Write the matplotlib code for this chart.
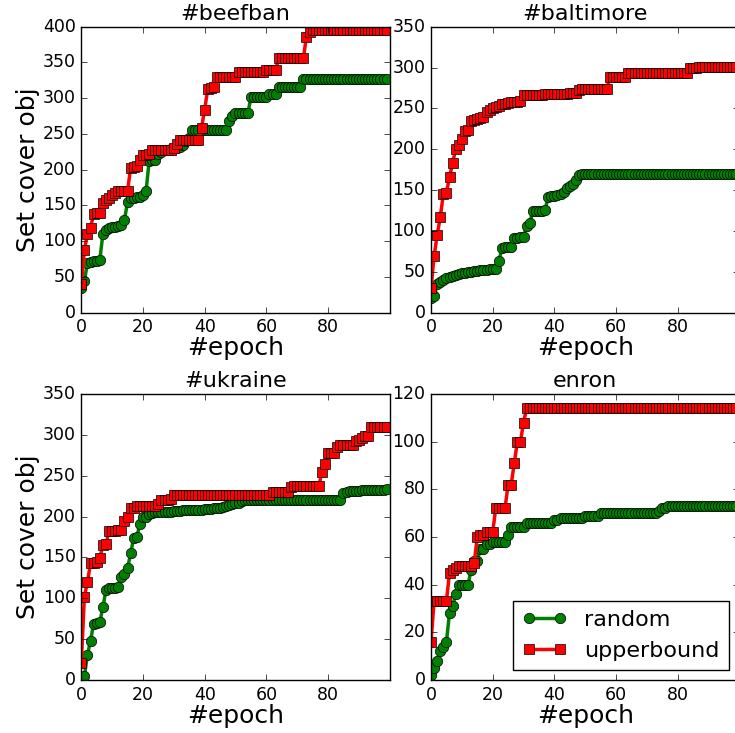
import matplotlib
matplotlib.use("Agg")
import matplotlib.pyplot as plt

# valori (epoch 0..99)
epochs = list(range(100))

beefban_random = [35, 44, 70, 71, 72, 73, 74, 110, 115, 118,
                  120, 120, 121, 122, 130, 155, 160, 161, 162, 162,
                  165, 170, 212, 213, 214, 222, 225, 227, 228, 229,
                  230, 231, 232, 235, 240, 245, 256, 256, 256, 256,
                  256, 256, 256, 256, 256, 256, 256, 256, 268, 275,
                  279, 279, 279, 279, 279, 301, 301, 301, 301, 301,
                  301, 306, 306, 306, 315, 315, 315, 315, 315, 315,
                  315, 315, 327, 327, 327, 327, 327, 327, 327, 327,
                  327, 327, 327, 327, 327, 327, 327, 327, 327, 327,
                  327, 327, 327, 327, 327, 327, 327, 327, 327, 327]
beefban_upper = [40, 88, 110, 119, 138, 139, 140, 154, 158, 160,
                 165, 168, 170, 170, 170, 170, 203, 204, 205, 214,
                 220, 221, 222, 227, 227, 227, 227, 227, 227, 227,
                 230, 236, 241, 241, 241, 241, 241, 241, 241, 259,
                 284, 313, 314, 315, 330, 330, 330, 330, 330, 330,
                 330, 336, 336, 336, 336, 336, 336, 336, 336, 336,
                 339, 339, 339, 339, 356, 356, 356, 356, 356, 356,
                 356, 356, 356, 386, 393, 396, 396, 396, 396, 396,
                 396, 396, 396, 396, 396, 396, 396, 396, 396, 396,
                 396, 396, 396, 396, 396, 396, 396, 396, 396, 396]

baltimore_random = [18, 20, 35, 38, 40, 42, 44, 45, 46, 47,
                    48, 49, 50, 50, 51, 51, 52, 52, 52, 53,
                    53, 54, 63, 79, 80, 80, 81, 92, 92, 93,
                    93, 106, 110, 124, 125, 125, 125, 126, 142, 143,
                    143, 144, 145, 148, 152, 155, 158, 162, 168, 170,
                    170, 170, 170, 170, 170, 170, 170, 170, 170, 170,
                    170, 170, 170, 170, 170, 170, 170, 170, 170, 170,
                    170, 170, 170, 170, 170, 170, 170, 170, 170, 170,
                    170, 170, 170, 170, 170, 170, 170, 170, 170, 170,
                    170, 170, 170, 170, 170, 170, 170, 170, 170, 170]
baltimore_upper = [30, 69, 95, 117, 145, 147, 166, 183, 200, 205,
                   212, 222, 223, 235, 236, 237, 238, 240, 246, 248,
                   250, 252, 253, 255, 256, 257, 258, 258, 258, 259,
                   266, 267, 267, 267, 267, 267, 267, 268, 268, 268,
                   268, 268, 268, 268, 268, 269, 269, 269, 273, 274,
                   274, 274, 274, 274, 274, 274, 274, 274, 288, 288,
                   288, 288, 288, 288, 293, 293, 293, 293, 293, 293,
                   293, 293, 293, 293, 293, 293, 293, 293, 293, 293,
                   293, 293, 293, 293, 299, 299, 299, 301, 301, 301,
                   301, 301, 301, 301, 301, 301, 301, 301, 301, 301]

ukraine_random = [3, 5, 31, 48, 69, 70, 71, 89, 110, 113,
                  113, 113, 114, 126, 130, 137, 155, 174, 175, 191,
                  199, 200, 203, 204, 205, 205, 205, 206, 206, 206,
                  207, 207, 207, 208, 208, 208, 208, 208, 208, 208,
                  209, 209, 209, 210, 210, 211, 212, 213, 214, 215,
                  216, 217, 219, 220, 220, 220, 220, 220, 220, 220,
                  220, 220, 220, 220, 220, 220, 220, 220, 220, 220,
                  220, 220, 220, 220, 220, 220, 220, 220, 220, 220,
                  220, 220, 220, 220, 220, 229, 230, 231, 231, 231,
                  231, 232, 232, 232, 232, 233, 233, 233, 233, 234]
ukraine_upper = [21, 102, 120, 143, 143, 145, 149, 165, 166, 182,
                 182, 182, 183, 183, 194, 200, 211, 211, 213, 213,
                 213, 213, 213, 213, 213, 215, 220, 220, 220, 222,
                 226, 226, 226, 226, 226, 226, 226, 226, 226, 226,
                 226, 226, 226, 226, 226, 226, 226, 226, 226, 226,
                 226, 226, 226, 226, 226, 226, 226, 226, 226, 226,
                 226, 226, 230, 230, 230, 230, 230, 230, 236, 237,
                 237, 237, 237, 237, 237, 237, 237, 237, 254, 264,
                 278, 278, 278, 285, 288, 288, 288, 288, 288, 292,
                 294, 296, 299, 299, 310, 310, 310, 310, 310, 310]

enron_random = [2, 5, 8, 12, 14, 16, 28, 31, 36, 40,
                40, 40, 40, 46, 50, 50, 55, 55, 57, 57,
                58, 58, 58, 58, 58, 61, 64, 64, 64, 64,
                64, 66, 66, 66, 66, 66, 66, 66, 66, 66,
                67, 67, 68, 68, 68, 68, 68, 68, 68, 68,
                69, 69, 69, 69, 69, 70, 70, 70, 70, 70,
                70, 70, 70, 70, 70, 70, 70, 70, 70, 70,
                70, 70, 70, 70, 71, 72, 72, 73, 73, 73,
                73, 73, 73, 73, 73, 73, 73, 73, 73, 73,
                73, 73, 73, 73, 73, 73, 73, 73, 73, 73]
enron_upper = [16, 33, 33, 33, 33, 33, 45, 46, 47, 48,
               48, 48, 48, 48, 49, 60, 61, 61, 62, 62,
               62, 72, 72, 72, 72, 82, 82, 91, 100, 100,
               108, 114, 114, 114, 114, 114, 114, 114, 114, 114,
               114, 114, 114, 114, 114, 114, 114, 114, 114, 114,
               114, 114, 114, 114, 114, 114, 114, 114, 114, 114,
               114, 114, 114, 114, 114, 114, 114, 114, 114, 114,
               114, 114, 114, 114, 114, 114, 114, 114, 114, 114,
               114, 114, 114, 114, 114, 114, 114, 114, 114, 114,
               114, 114, 114, 114, 114, 114, 114, 114, 114, 114]

titles = ["#beefban", "#baltimore", "#ukraine", "enron"]
randoms = [beefban_random, baltimore_random, ukraine_random, enron_random]
uppers = [beefban_upper, baltimore_upper, ukraine_upper, enron_upper]
ymaxs = [400, 350, 350, 120]
ysteps = [50, 50, 50, 20]

plt.style.use("classic")
plt.rcParams["figure.facecolor"] = "white"
plt.rcParams["savefig.facecolor"] = "white"
plt.rcParams["font.family"] = ["DejaVu Sans"]

fig = plt.figure(figsize=(7.35, 7.33), dpi=100)

# posizioni degli assi in pixel (sinistra, basso)
W, H = 735.0, 733.0
posizioni = [(81.3, 312.7), (431.0, 312.7), (81.3, 680.0), (431.0, 680.0)]
aw, ah = 308.4, 286.0

for i in range(4):
    x0, yb = posizioni[i]
    ax = fig.add_axes([x0 / W, 1 - yb / H, aw / W, ah / H])
    ax.plot(epochs, randoms[i], color="g", marker="o", linestyle="-",
            linewidth=2.5, markersize=7.5, markeredgecolor="k",
            markeredgewidth=0.5, label="random")
    ax.plot(epochs, uppers[i], color="r", marker="s", linestyle="-",
            linewidth=2.5, markersize=7.5, markeredgecolor="k",
            markeredgewidth=0.5, label="upperbound")
    ax.set_xlim(0, 100)
    ax.set_ylim(0, ymaxs[i])
    ax.set_xticks([0, 20, 40, 60, 80])
    ax.set_yticks(list(range(0, ymaxs[i] + 1, ysteps[i])))
    ax.tick_params(labelsize=12.5)
    ax.set_title(titles[i], fontsize=16)
    ax.set_xlabel("#epoch", fontsize=18, labelpad=0)
    if i % 2 == 0:
        ax.set_ylabel("Set cover obj", fontsize=18, labelpad=2)
    if i == 3:
        ax.legend(loc="lower right", bbox_to_anchor=(0.965, 0.035),
                  borderaxespad=0, fontsize=16, numpoints=2)

fig.savefig("out.png", dpi=100)
